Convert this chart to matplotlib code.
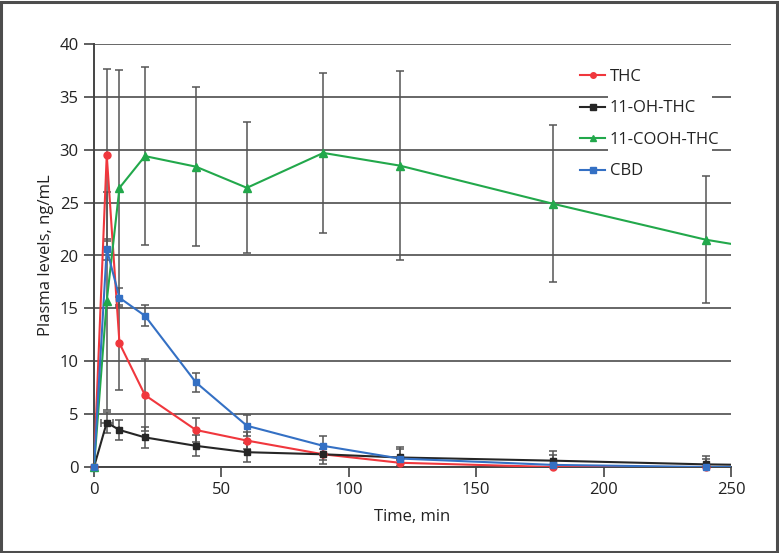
import matplotlib
matplotlib.use("Agg")
import matplotlib.pyplot as plt
from matplotlib.lines import Line2D
from matplotlib.patches import Rectangle

plt.rcParams['font.family'] = ['Open Sans', 'DejaVu Sans']

# ---- data (last time point lies beyond the visible x range) ----
time = [0, 5, 10, 20, 40, 60, 90, 120, 180, 240, 300]

thc = [0, 29.5, 11.7, 6.8, 3.5, 2.5, 1.2, 0.4, 0.0, 0.0, 0.0]
thc_sd = [0, 8.1, 4.4, 3.4, 1.1, 0.8, 0.5, 0.3, 0.0, 0.0, 0.0]

oh = [0, 4.2, 3.5, 2.8, 2.0, 1.4, 1.2, 0.9, 0.6, 0.25, 0.05]
oh_sd = [0, 1.0, 0.9, 1.0, 1.0, 0.9, 0.9, 1.0, 0.9, 0.8, 0.0]
oh_time_sd = [0, 2.3, 0, 0, 0, 0, 0, 0, 0, 0, 0]

cooh = [0, 15.7, 26.4, 29.4, 28.4, 26.4, 29.7, 28.5, 24.9, 21.5, 19.1]
cooh_sd = [0, 10.3, 11.1, 8.4, 7.5, 6.2, 7.6, 8.9, 7.4, 6.0, 0.0]

cbd = [0, 20.6, 16.0, 14.3, 8.0, 3.9, 2.0, 0.8, 0.2, 0.0, 0.0]
cbd_sd = [0, 1.0, 0.9, 1.0, 0.9, 1.0, 0.9, 0.9, 0.9, 0.75, 0.0]

labels = ['THC', '11-OH-THC', '11-COOH-THC', 'CBD']
colors = ['#f0373d', '#262626', '#22a84b', '#3470c4']
markers = ['o', 's', '^', 's']
msizes = [5, 5, 6, 5]

x_ticks = [0, 50, 100, 150, 200, 250]
y_ticks = [0, 5, 10, 15, 20, 25, 30, 35, 40]

# ---- figure ----
fig = plt.figure(figsize=(7.79, 5.53), dpi=100)
ax = fig.add_axes([94 / 779, 1 - 467 / 553, 637 / 779, 423 / 553])

series = [thc, oh, cooh, cbd]
sds = [thc_sd, oh_sd, cooh_sd, cbd_sd]
err_col = '#555555'

n_vis = len(time) - 1
# error bars
for vals, sd in zip(series, sds):
    ax.errorbar(time[:n_vis], vals[:n_vis], yerr=sd[:n_vis], fmt='none',
                ecolor=err_col, elinewidth=1.1, capsize=2.6, capthick=1.1, zorder=2)
ax.errorbar(time[:n_vis], oh[:n_vis], xerr=oh_time_sd[:n_vis], fmt='none',
            ecolor=err_col, elinewidth=1.1, capsize=2.6, capthick=1.1, zorder=2)

# lines (clipped) and markers (unclipped)
for vals, c, m, ms in zip(series, colors, markers, msizes):
    ax.plot(time, vals, color=c, lw=1.5, zorder=3)
    ax.plot(time[:n_vis], vals[:n_vis], linestyle='none', marker=m, ms=ms,
            color=c, zorder=4, clip_on=False)

ax.set_xlim(0, 250)
ax.set_ylim(0, 40)
ax.set_xticks(x_ticks)
ax.set_yticks(y_ticks)
ax.tick_params(axis='both', direction='out', length=7, width=1.2,
               color='#444444', labelsize=12, labelcolor='#222222', pad=4)

ax.yaxis.grid(True, color='#666666', lw=1.4, zorder=0.5)
ax.set_axisbelow(True)
for s in ['top', 'right']:
    ax.spines[s].set_visible(False)
for s in ['left', 'bottom']:
    ax.spines[s].set_color('#444444')
    ax.spines[s].set_linewidth(1.4)

ax.set_xlabel('Time, min', fontsize=12, color='#222222', labelpad=8)
ax.set_ylabel('Plasma levels, ng/mL', fontsize=12, color='#222222', labelpad=4)

# white panel behind legend text
ax.add_patch(Rectangle((0.807, 0.67), 0.163, 0.30, transform=ax.transAxes,
                       facecolor='white', edgecolor='none', zorder=1))

handles = [Line2D([], [], color=c, marker=m, ms=ms - 1, lw=1.5)
           for c, m, ms in zip(colors, markers, msizes)]
leg = ax.legend(handles, labels, loc='upper left', bbox_to_anchor=(0.763, 0.941),
                frameon=False, fontsize=12, handlelength=1.5, handletextpad=0.3,
                labelspacing=0.93, borderpad=0, borderaxespad=0)
for t in leg.get_texts():
    t.set_color('#222222')

# figure border
fig.patches.append(Rectangle((0.0015, 0.002), 0.996, 0.995, transform=fig.transFigure,
                             facecolor='none', edgecolor='#4d4d4d', lw=2.2))

fig.savefig('out.png', dpi=100)
